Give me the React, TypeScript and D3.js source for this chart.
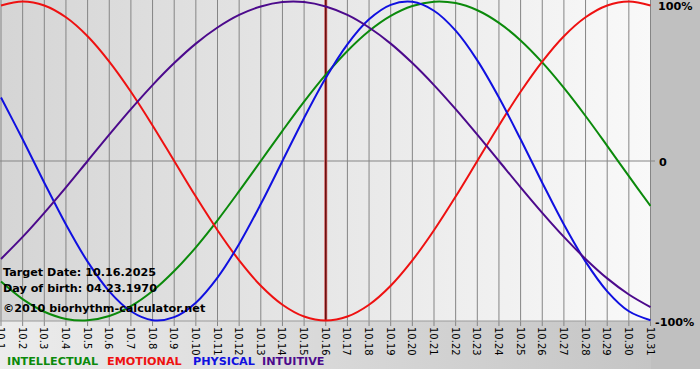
import React from "react";
import * as d3 from "d3";

const days: string[] = Array.from({ length: 31 }, (_, i) => `10.${i + 1}`);
const physical = [0.398, 0.136, -0.136, -0.398, -0.631, -0.817, -0.942, -0.998, -0.979, -0.888, -0.731, -0.52, -0.27, 0, 0.27, 0.52, 0.731, 0.888, 0.979, 0.998, 0.942, 0.817, 0.631, 0.398, 0.136, -0.136, -0.398, -0.631, -0.817, -0.942, -0.998];
const emotional = [0.975, 1, 0.975, 0.901, 0.782, 0.623, 0.434, 0.223, 0, -0.223, -0.434, -0.623, -0.782, -0.901, -0.975, -1, -0.975, -0.901, -0.782, -0.623, -0.434, -0.223, 0, 0.223, 0.434, 0.623, 0.782, 0.901, 0.975, 1, 0.975];
const intellectual = [-0.756, -0.866, -0.945, -0.99, -0.999, -0.972, -0.91, -0.815, -0.69, -0.541, -0.372, -0.189, 0, 0.189, 0.372, 0.541, 0.69, 0.815, 0.91, 0.972, 0.999, 0.99, 0.945, 0.866, 0.756, 0.618, 0.458, 0.282, 0.095, -0.095, -0.282];
const intuitive = [-0.614, -0.476, -0.325, -0.165, 0, 0.165, 0.325, 0.476, 0.614, 0.736, 0.837, 0.916, 0.969, 0.997, 0.997, 0.969, 0.916, 0.837, 0.736, 0.614, 0.476, 0.325, 0.165, 0, -0.165, -0.325, -0.476, -0.614, -0.736, -0.837, -0.916];
const yTicks = [
  { v: 1, label: "100%" },
  { v: 0, label: "0" },
  { v: -1, label: "-100%" },
];
const targetIndex = 15;
const infoLines = ["Target Date: 10.16.2025", "Day of birth: 04.23.1970", "\u00a92010 biorhythm-calculator.net"];

const series = [
  { name: "INTELLECTUAL", values: intellectual, color: "#0b8a0b" },
  { name: "EMOTIONAL", values: emotional, color: "#ee1111" },
  { name: "PHYSICAL", values: physical, color: "#1010e0" },
  { name: "INTUITIVE", values: intuitive, color: "#4c0a8c" },
];

const W = 700;
const H = 380;
const plotLeft = 0;
const plotRight = 651;
const plotTop = 0;
const plotBottom = 321;
const font = "'DejaVu Sans', Verdana, sans-serif";

export default function App() {
  const x = d3.scaleLinear().domain([0, days.length - 1]).range([1, 650.5]);
  const y = d3.scaleLinear().domain([-1, 1]).range([320.5, 1.5]);
  const line = d3
    .line<number>()
    .x((_, i) => x(i))
    .y((d) => y(d))
    .curve(d3.curveCatmullRom.alpha(0.5));

  const legendX = [7, 107, 193, 262];
  const yLabelX = [658, 659, 655];

  return (
    <div style={{ position: "absolute", left: 0, top: 0 }}>
      <svg width={W} height={H} style={{ display: "block" }}>
        <defs>
          <linearGradient id="plotBg" x1="0" x2="1" y1="0" y2="0">
            <stop offset="0" stopColor="#d5d5d5" />
            <stop offset="1" stopColor="#f9f9f9" />
          </linearGradient>
          <linearGradient id="bottomBg" x1="0" x2="1" y1="0" y2="0">
            <stop offset="0" stopColor="#ececec" />
            <stop offset="1" stopColor="#c2c2c2" />
          </linearGradient>
          <clipPath id="plotClip">
            <rect x={plotLeft} y={plotTop} width={plotRight - plotLeft} height={plotBottom - plotTop + 1} />
          </clipPath>
        </defs>
        <rect x={0} y={0} width={W} height={H} fill="#ffffff" />
        <rect x={0} y={plotBottom} width={W} height={369 - plotBottom} fill="url(#bottomBg)" />
        <rect x={plotRight} y={0} width={W - plotRight} height={369} fill="#c0c0c0" />
        <rect x={plotLeft} y={plotTop} width={plotRight - plotLeft} height={plotBottom - plotTop} fill="url(#plotBg)" />

        {days.map((d, i) => (
          <g key={d}>
            <line x1={x(i)} x2={x(i)} y1={0} y2={plotBottom + 5} stroke="#858585" strokeWidth={1} />
            <text
              transform={`translate(${x(i) - 4},${plotBottom + 6}) rotate(90)`}
              fontFamily={font}
              fontSize={10}
              fill="#000"
            >
              {d}
            </text>
          </g>
        ))}
        <line x1={plotLeft} x2={plotRight + 4} y1={y(0)} y2={y(0)} stroke="#858585" strokeWidth={1} />
        <line x1={plotLeft} x2={plotRight} y1={plotBottom} y2={plotBottom} stroke="#9a9a9a" strokeWidth={1} />

        <line x1={x(targetIndex)} x2={x(targetIndex)} y1={0} y2={plotBottom} stroke="#d06060" strokeWidth={3} />
        <line x1={x(targetIndex)} x2={x(targetIndex)} y1={0} y2={plotBottom} stroke="#6a1010" strokeWidth={1.5} />

        <g clipPath="url(#plotClip)">
          {series.map((s) => (
            <path key={s.name} d={line(s.values) || ""} fill="none" stroke={s.color} strokeWidth={2} />
          ))}
        </g>

        {infoLines.map((t, i) => (
          <text key={t} x={3} y={[276, 292, 312][i]} fontFamily={font} fontSize={11.2} fontWeight="bold" fill="#000">
            {t}
          </text>
        ))}

        {yTicks.map((t, i) => (
          <text
            key={t.label}
            x={yLabelX[i]}
            y={y(t.v) + (i === 0 ? 5 : 2)}
            dominantBaseline="middle"
            fontFamily={font}
            fontSize={11.2}
            fontWeight="bold"
            fill="#000"
          >
            {t.label}
          </text>
        ))}

        {series.map((s, i) => (
          <text key={s.name} x={legendX[i]} y={365} fontFamily={font} fontSize={11.2} fontWeight="bold" fill={s.color}>
            {s.name}
          </text>
        ))}
      </svg>
    </div>
  );
}
